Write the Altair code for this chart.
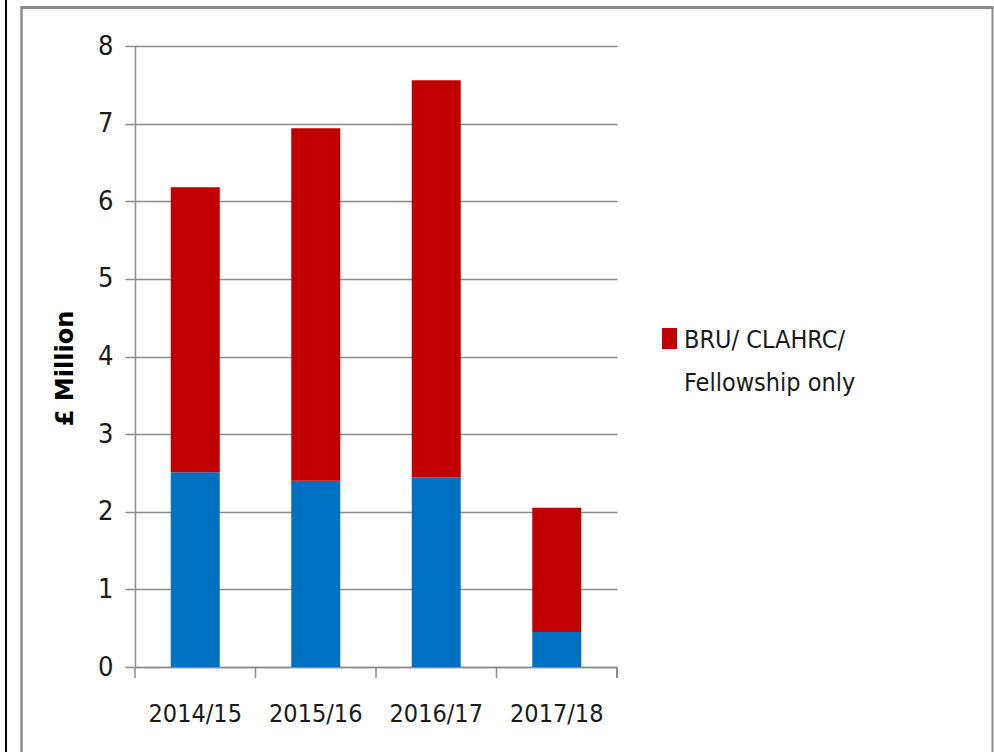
import altair as alt
import pandas as pd

years = ["2014/15", "2015/16", "2016/17", "2017/18"]
blue_vals = [2.51, 2.40, 2.44, 0.45]
red_vals = [3.67, 4.54, 5.12, 1.60]
series = ["Other", "BRU/ CLAHRC/ Fellowship only"]
colors = ["#0070C0", "#C00000"]
legend_label = "BRU/ CLAHRC/\nFellowship only"
y_ticks = [0, 1, 2, 3, 4, 5, 6, 7, 8]

rows = []
for i, yr in enumerate(years):
    rows.append({"year": yr, "series": series[0], "value": blue_vals[i], "ord": 0})
    rows.append({"year": yr, "series": series[1], "value": red_vals[i], "ord": 1})
df = pd.DataFrame(rows)

W, H = 482, 621
FONT = "DejaVu Sans Condensed, Liberation Sans"
GRID = "#8c8c8c"

x_enc = alt.X("year:N", sort=years, title=None,
              scale=alt.Scale(paddingInner=0, paddingOuter=0),
              axis=alt.Axis(labelAngle=0, ticks=False, domain=True, domainColor=GRID,
                            domainWidth=1.5, labelFont=FONT, labelFontSize=25,
                            labelColor="#1a1a1a", labelPadding=34, grid=False))

bars = alt.Chart(df).mark_bar(size=49).encode(
    x=x_enc,
    y=alt.Y("value:Q", stack="zero", title="£ Million",
            scale=alt.Scale(domain=[0, 8], nice=False),
            axis=alt.Axis(values=y_ticks, grid=True, gridColor=GRID, gridWidth=1.5,
                          domainColor=GRID, domainWidth=1.5, tickColor=GRID,
                          tickWidth=1.5, tickSize=10, labelFont=FONT,
                          labelFontSize=27, labelColor="#1a1a1a", labelPadding=12,
                          titleFont="DejaVu Sans", titleFontWeight="bold",
                          titleFontSize=24, titleColor="#000000", titleAngle=-90,
                          titleAlign="center", titleBaseline="middle",
                          titleX=-70, titleY=322)),
    color=alt.Color("series:N", scale=alt.Scale(domain=series, range=colors), legend=None),
    order=alt.Order("ord:Q", sort="ascending"),
)

tick_df = pd.DataFrame({"year": years})
x_ticks = alt.Chart(tick_df).mark_rule(color=GRID, strokeWidth=1.5).encode(
    x=alt.X("year:N", sort=years, bandPosition=0),
    y=alt.value(H), y2=alt.value(H + 11),
)
end_tick = alt.Chart(tick_df).mark_rule(color=GRID, strokeWidth=1.5).encode(
    x=alt.value(W), y=alt.value(H), y2=alt.value(H + 11),
)

leg_df = pd.DataFrame({"label": [legend_label], "series": [series[1]]})
leg_sym = alt.Chart(leg_df).mark_rect(color=colors[1]).encode(
    x=alt.value(527), x2=alt.value(542), y=alt.value(282), y2=alt.value(303),
)
leg_text = alt.Chart(leg_df).mark_text(
    align="left", baseline="alphabetic", font=FONT, fontSize=25,
    lineBreak="\n", lineHeight=43, color="#1a1a1a",
).encode(x=alt.value(549), y=alt.value(302), text="label:N")

frame_df = pd.DataFrame({"k": [0]})
black_line = alt.Chart(frame_df).mark_rule(color="#000000", strokeWidth=2).encode(
    x=alt.value(-129), y=alt.value(-46), y2=alt.value(706))
gray_left = alt.Chart(frame_df).mark_rule(color="#8c8c8c", strokeWidth=2.5).encode(
    x=alt.value(-113.5), y=alt.value(-39.5), y2=alt.value(706))
gray_top = alt.Chart(frame_df).mark_rule(color="#8c8c8c", strokeWidth=3).encode(
    y=alt.value(-38.5), x=alt.value(-114.5), x2=alt.value(858.5))
gray_right = alt.Chart(frame_df).mark_rule(color="#8c8c8c", strokeWidth=2).encode(
    x=alt.value(857.5), y=alt.value(-39.5), y2=alt.value(706))

chart = alt.layer(
    bars, x_ticks, end_tick, leg_sym, leg_text,
    black_line, gray_left, gray_top, gray_right,
).properties(
    width=W, height=H,
    autosize=alt.AutoSizeParams(type="none"),
    padding={"left": 135, "top": 46, "right": 377, "bottom": 85},
    background="#ffffff",
).configure_view(stroke=None)

chart.save("out.html", embed_options={"renderer": "svg", "actions": False})
